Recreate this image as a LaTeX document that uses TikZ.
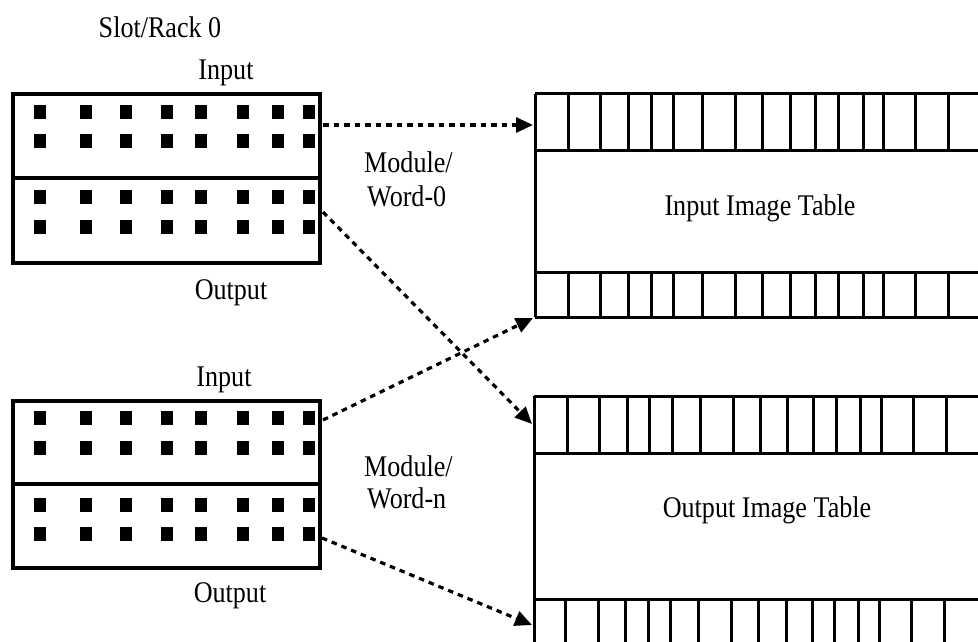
\documentclass[tikz,border=0pt]{standalone}
\usepackage{fontspec}
\setmainfont{Liberation Serif}[FakeStretch=0.87]
\usetikzlibrary{arrows.meta}
\begin{document}
\begin{tikzpicture}[x=1pt,y=-1pt,
  frame/.style={draw, line width=3.2pt},
  lbl/.style={font=\fontsize{30}{32}\selectfont, inner sep=0pt},
  link/.style={line width=3.2pt, dash pattern=on 5.5pt off 5pt, -{Triangle[length=17pt,width=15pt]}},
  cell/.style={line width=3pt}]
\useasboundingbox (0,0) rectangle (978,642);

% ---------- modules ----------
\node[frame, anchor=north west, minimum width=307pt, minimum height=169pt, inner sep=0pt, outer sep=0pt] (modA) at (13,94) {};
\draw[frame] (13,178) -- (320,178);
\node[frame, anchor=north west, minimum width=307pt, minimum height=167pt, inner sep=0pt, outer sep=0pt] (modB) at (13,401) {};
\draw[frame] (13,484) -- (320,484);

% pins
\foreach \x in {40,86,126,167,201,243,278,309}{
  \foreach \y in {112,141,197,227}{
    \fill (\x-6,\y-7) rectangle (\x+6,\y+7);
  }
  \foreach \y in {418,448,505,534}{
    \fill (\x-6,\y-7) rectangle (\x+6,\y+7);
  }
}

% ---------- input image table ----------
\draw[cell] (535,94) -- (535,317);
\draw[cell] (535,94) -- (980,94) (535,150) -- (980,150);
\draw[cell] (535,272) -- (980,272) (535,317) -- (980,317);
\foreach \x in {568,600,628,651,673,702,735,762,790,815,838,863,883,915,948}{
  \draw[cell] (\x,94) -- (\x,150);
  \draw[cell] (\x,272) -- (\x,317);
}
\node[lbl, anchor=base] (inTab) at (760,215) {Input Image Table};

% ---------- output image table ----------
\draw[cell] (534,396) -- (534,645);
\draw[cell] (534,396) -- (980,396) (534,453) -- (980,453);
\draw[cell] (534,599) -- (980,599);
\foreach \x/\z in {567/565,599/598,627/625,649/648,672/670,700/698,733/731,760/758,787/786,813/812,836/834,860/858,881/879,913/911,946/944}{
  \draw[cell] (\x,396) -- (\x,453);
  \draw[cell] (\z,599) -- (\z,645);
}
\node[lbl, anchor=base] (outTab) at (767,517) {Output Image Table};

% ---------- labels ----------
\node[lbl, anchor=base] (slot) at (160,38) {Slot/Rack 0};
\node[lbl, anchor=base] (inA) at (226,80) {Input};
\node[lbl, anchor=base] (outA) at (231,299) {Output};
\node[lbl, anchor=base] (inB) at (224,386) {Input};
\node[lbl, anchor=base] (outB) at (230,602) {Output};
\node[lbl, anchor=base west] (modw0a) at (364,172) {Module/};
\node[lbl, anchor=base west] (modw0b) at (367,206) {Word-0};
\node[lbl, anchor=base west] (modwna) at (364,476) {Module/};
\node[lbl, anchor=base west] (modwnb) at (367,508) {Word-n};

% ---------- connectors ----------
\coordinate (aIn)  at (323,125);
\coordinate (aOut) at (323,212);
\coordinate (bIn)  at (323,420);
\coordinate (bOut) at (322,538);
\coordinate (tInTop) at (533,125);
\coordinate (tInBot) at (533,318);
\coordinate (tOutTop) at (532,424);
\coordinate (tOutBot) at (532,625);
\draw[link] (aIn) -- (tInTop);
\draw[link] (aOut) -- (tOutTop);
\draw[link] (bIn) -- (tInBot);
\draw[link] (bOut) -- (tOutBot);
\end{tikzpicture}
\end{document}
